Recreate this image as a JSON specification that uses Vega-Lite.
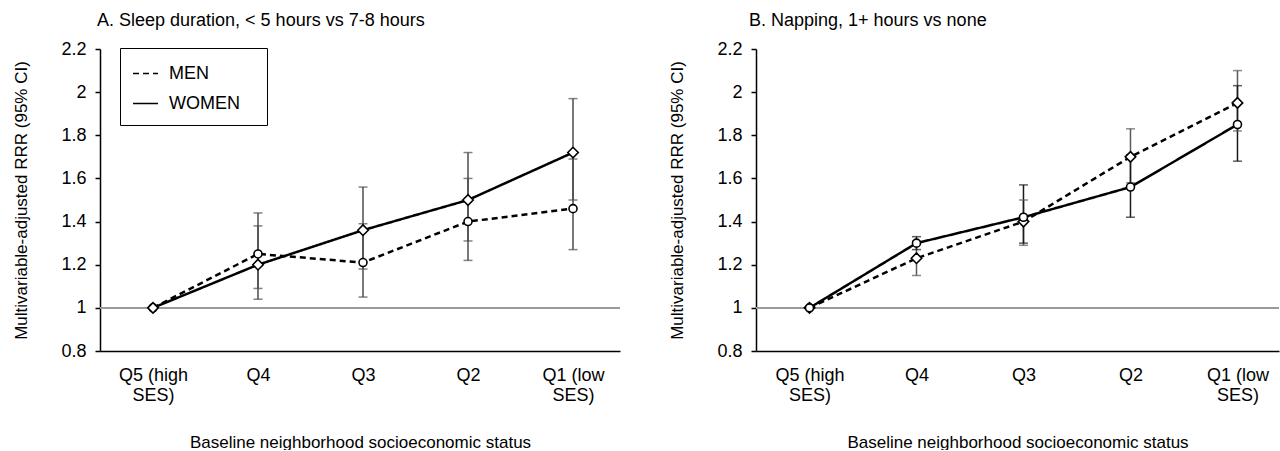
{
  "$schema": "https://vega.github.io/schema/vega-lite/v6.json",
  "padding": {"left": 12, "top": 12, "right": 0, "bottom": 0},
  "background": "white",
  "config": {
    "view": {"stroke": null},
    "font": "Liberation Sans",
    "axis": {
      "labelFont": "Liberation Sans",
      "titleFont": "Liberation Sans",
      "labelFontSize": 18,
      "titleFontSize": 17,
      "titleFontWeight": "normal",
      "labelColor": "black",
      "titleColor": "black",
      "domainColor": "black",
      "domainWidth": 1.5,
      "tickColor": "black",
      "tickWidth": 1.5,
      "grid": false
    },
    "axisX": {"ticks": false, "tickSize": 0, "labelPadding": 15, "titlePadding": 30, "labelAngle": 0, "labelLineHeight": 20},
    "axisY": {"tickSize": 5, "labelPadding": 9, "titlePadding": 30},
    "title": {"font": "Liberation Sans", "fontSize": 18, "fontWeight": "normal", "color": "black", "anchor": "start", "frame": "group"},
    "legend": {"labelFont": "Liberation Sans", "labelFontSize": 18, "labelColor": "black"}
  },
  "datasets": {
    "sleep": [
      {"sex": "MEN", "ses": "Q5 (high SES)", "rrr": 1.0, "lo": null, "hi": null},
      {"sex": "MEN", "ses": "Q4", "rrr": 1.25, "lo": 1.09, "hi": 1.44},
      {"sex": "MEN", "ses": "Q3", "rrr": 1.21, "lo": 1.05, "hi": 1.39},
      {"sex": "MEN", "ses": "Q2", "rrr": 1.40, "lo": 1.22, "hi": 1.60},
      {"sex": "MEN", "ses": "Q1 (low SES)", "rrr": 1.46, "lo": 1.27, "hi": 1.69},
      {"sex": "WOMEN", "ses": "Q5 (high SES)", "rrr": 1.0, "lo": null, "hi": null},
      {"sex": "WOMEN", "ses": "Q4", "rrr": 1.20, "lo": 1.04, "hi": 1.38},
      {"sex": "WOMEN", "ses": "Q3", "rrr": 1.36, "lo": 1.18, "hi": 1.56},
      {"sex": "WOMEN", "ses": "Q2", "rrr": 1.50, "lo": 1.31, "hi": 1.72},
      {"sex": "WOMEN", "ses": "Q1 (low SES)", "rrr": 1.72, "lo": 1.50, "hi": 1.97}
    ],
    "nap": [
      {"sex": "MEN", "ses": "Q5 (high SES)", "rrr": 1.0, "lo": null, "hi": null},
      {"sex": "MEN", "ses": "Q4", "rrr": 1.23, "lo": 1.15, "hi": 1.31},
      {"sex": "MEN", "ses": "Q3", "rrr": 1.40, "lo": 1.29, "hi": 1.50},
      {"sex": "MEN", "ses": "Q2", "rrr": 1.70, "lo": 1.58, "hi": 1.83},
      {"sex": "MEN", "ses": "Q1 (low SES)", "rrr": 1.95, "lo": 1.82, "hi": 2.10},
      {"sex": "WOMEN", "ses": "Q5 (high SES)", "rrr": 1.0, "lo": null, "hi": null},
      {"sex": "WOMEN", "ses": "Q4", "rrr": 1.30, "lo": 1.27, "hi": 1.33},
      {"sex": "WOMEN", "ses": "Q3", "rrr": 1.42, "lo": 1.30, "hi": 1.57},
      {"sex": "WOMEN", "ses": "Q2", "rrr": 1.56, "lo": 1.42, "hi": 1.71},
      {"sex": "WOMEN", "ses": "Q1 (low SES)", "rrr": 1.85, "lo": 1.68, "hi": 2.03}
    ]
  },
  "spacing": 47,
  "resolve": {"legend": {"strokeDash": "independent"}, "scale": {"x": "independent", "y": "independent", "strokeDash": "independent"}},
  "hconcat": [
    {
      "width": 520,
      "height": 302,
      "title": {"text": "A. Sleep duration, < 5 hours vs 7-8 hours", "offset": 10, "dx": -3},
      "data": {"name": "sleep"},
      "encoding": {
        "x": {"field": "ses", "type": "ordinal", "sort": ["Q5 (high SES)", "Q4", "Q3", "Q2", "Q1 (low SES)"],
              "scale": {"type": "point", "padding": 0.476, "align": 0.53},
              "axis": {"title": "Baseline neighborhood socioeconomic status", "labelExpr": "split(replace(datum.label, ' SES', '|SES'), '|')"}}
      },
      "layer": [
        {"mark": {"type": "rule", "color": "#999999", "strokeWidth": 1},
         "encoding": {"x": null, "y": {"datum": 1, "type": "quantitative", "scale": {"domain": [0.8, 2.2], "nice": false, "zero": false}}}},
        {"transform": [{"filter": "isValid(datum.lo)"}],
         "mark": {"type": "rule", "color": "#4d4d4d", "strokeWidth": 1.5},
         "encoding": {"y": {"field": "lo", "type": "quantitative"}, "y2": {"field": "hi"}}},
        {"transform": [{"filter": "isValid(datum.lo)"}],
         "mark": {"type": "tick", "color": "#4d4d4d", "size": 9, "thickness": 1.5, "orient": "horizontal"},
         "encoding": {"y": {"field": "lo", "type": "quantitative"}}},
        {"transform": [{"filter": "isValid(datum.hi)"}],
         "mark": {"type": "tick", "color": "#4d4d4d", "size": 9, "thickness": 1.5, "orient": "horizontal"},
         "encoding": {"y": {"field": "hi", "type": "quantitative"}}},
        {"mark": {"type": "line", "color": "black", "strokeWidth": 2.5},
         "encoding": {
           "y": {"field": "rrr", "type": "quantitative", "scale": {"domain": [0.8, 2.2], "nice": false, "zero": false},
                 "axis": {"title": "Multivariable-adjusted  RRR (95% CI)", "values": [0.8, 1, 1.2, 1.4, 1.6, 1.8, 2, 2.2], "format": ".1~f"}},
           "strokeDash": {"field": "sex", "type": "nominal", "scale": {"domain": ["MEN", "WOMEN"], "range": [[6, 4], [1, 0]]},
                          "legend": {"title": null, "orient": "none", "legendX": 20, "legendY": -1, "strokeColor": "black", "padding": 12,
                                     "symbolType": "stroke", "symbolSize": 625, "symbolStrokeWidth": 1.5, "symbolStrokeColor": "black",
                                     "labelOffset": 10, "rowPadding": 7, "labelExpr": "datum.label + '\u00a0\u00a0\u00a0\u200b'"}}
         }},
        {"transform": [{"filter": "datum.sex == 'MEN'"}],
         "mark": {"type": "point", "shape": "circle", "filled": true, "fill": "white", "stroke": "black", "strokeWidth": 1.6, "size": 64, "opacity": 1},
         "encoding": {"y": {"field": "rrr", "type": "quantitative"}}},
        {"transform": [{"filter": "datum.sex == 'WOMEN'"}],
         "mark": {"type": "point", "shape": "diamond", "filled": true, "fill": "white", "stroke": "black", "strokeWidth": 1.6, "size": 110, "opacity": 1},
         "encoding": {"y": {"field": "rrr", "type": "quantitative"}}}
      ]
    },
    {
      "width": 523,
      "height": 302,
      "title": {"text": "B. Napping,  1+ hours vs none", "offset": 10, "dx": -7},
      "data": {"name": "nap"},
      "encoding": {
        "x": {"field": "ses", "type": "ordinal", "sort": ["Q5 (high SES)", "Q4", "Q3", "Q2", "Q1 (low SES)"],
              "scale": {"type": "point", "padding": 0.444, "align": 0.563},
              "axis": {"title": "Baseline neighborhood socioeconomic status", "labelExpr": "split(replace(datum.label, ' SES', '|SES'), '|')"}}
      },
      "layer": [
        {"mark": {"type": "rule", "color": "#999999", "strokeWidth": 1},
         "encoding": {"x": null, "y": {"datum": 1, "type": "quantitative", "scale": {"domain": [0.8, 2.2], "nice": false, "zero": false}}}},
        {"transform": [{"filter": "isValid(datum.lo)"}],
         "mark": {"type": "rule", "strokeWidth": 1.5},
         "encoding": {"y": {"field": "lo", "type": "quantitative"}, "y2": {"field": "hi"},
                      "color": {"field": "sex", "type": "nominal", "scale": {"domain": ["MEN", "WOMEN"], "range": ["#5a5a5a", "#1a1a1a"]}, "legend": null}}},
        {"transform": [{"filter": "isValid(datum.lo)"}],
         "mark": {"type": "tick", "size": 9, "thickness": 1.5, "orient": "horizontal"},
         "encoding": {"y": {"field": "lo", "type": "quantitative"},
                      "color": {"field": "sex", "type": "nominal", "legend": null}}},
        {"transform": [{"filter": "isValid(datum.hi)"}],
         "mark": {"type": "tick", "size": 9, "thickness": 1.5, "orient": "horizontal"},
         "encoding": {"y": {"field": "hi", "type": "quantitative"},
                      "color": {"field": "sex", "type": "nominal", "legend": null}}},
        {"mark": {"type": "line", "color": "black", "strokeWidth": 2.5},
         "encoding": {
           "y": {"field": "rrr", "type": "quantitative", "scale": {"domain": [0.8, 2.2], "nice": false, "zero": false},
                 "axis": {"title": "Multivariable-adjusted  RRR (95% CI)", "values": [0.8, 1, 1.2, 1.4, 1.6, 1.8, 2, 2.2], "format": ".1~f"}},
           "strokeDash": {"field": "sex", "type": "nominal", "scale": {"domain": ["MEN", "WOMEN"], "range": [[6, 4], [1, 0]]}, "legend": null}
         }},
        {"transform": [{"filter": "datum.sex == 'MEN'"}],
         "mark": {"type": "point", "shape": "diamond", "filled": true, "fill": "white", "stroke": "black", "strokeWidth": 1.6, "size": 110, "opacity": 1},
         "encoding": {"y": {"field": "rrr", "type": "quantitative"}}},
        {"transform": [{"filter": "datum.sex == 'WOMEN'"}],
         "mark": {"type": "point", "shape": "circle", "filled": true, "fill": "white", "stroke": "black", "strokeWidth": 1.6, "size": 64, "opacity": 1},
         "encoding": {"y": {"field": "rrr", "type": "quantitative"}}}
      ]
    }
  ]
}
